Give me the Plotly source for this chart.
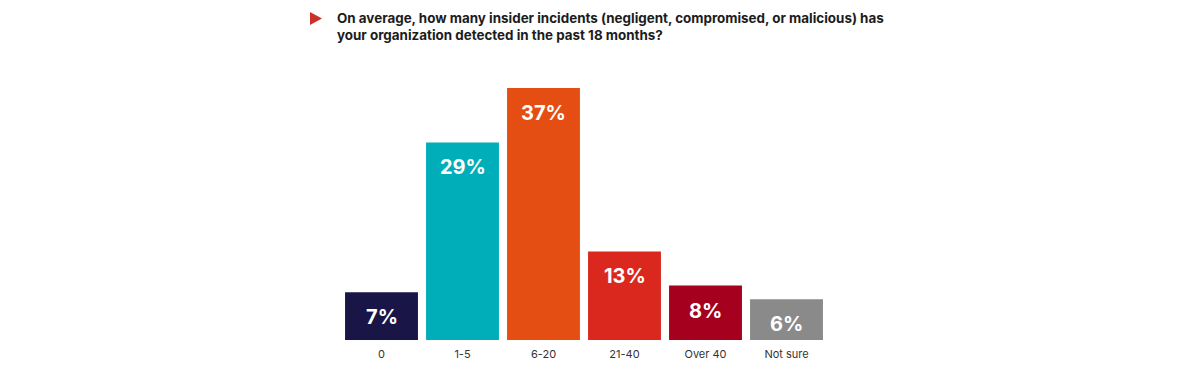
import plotly.graph_objects as go

categories = ["0", "1-5", "6-20", "21-40", "Over 40", "Not sure"]
values = [7, 29, 37, 13, 8, 6]
labels = ["7%", "29%", "37%", "13%", "8%", "6%"]
colors = ["#1a1547", "#00aeb9", "#e44e12", "#da281f", "#a6001f", "#8a8a8a"]
title_text = ("On average, how many insider incidents (negligent, compromised, or malicious) has<br>"
              "your organization detected in the past 18 months?")

fig = go.Figure()
fig.add_trace(go.Bar(
    x=categories, y=values, marker=dict(color=colors, line=dict(width=0)),
    hoverinfo="skip", showlegend=False,
))

for c, v, t in zip(categories, values, labels):
    fig.add_annotation(x=c, y=v, text="<b>" + t + "</b>", showarrow=False, yanchor="middle",
                       yshift=-25, font=dict(family="Inter, Roboto, sans-serif", size=20, color="white"))

# red triangle marker before the title
fig.add_shape(type="path", xref="paper", yref="paper",
              path="M -0.0638 1.3016 L -0.0391 1.2758 L -0.0638 1.25 Z",
              fillcolor="#cc3129", line=dict(width=0))
fig.add_annotation(xref="paper", yref="paper", x=-0.0124, y=1.318, xanchor="left", yanchor="top",
                   align="left", text="<b>" + title_text + "</b>", showarrow=False,
                   font=dict(family="Inter, Roboto, sans-serif", size=13.4, color="#1c1c1c"))

fig.update_layout(
    width=1200, height=370,
    margin=dict(l=333, r=381, t=80, b=38),
    paper_bgcolor="white", plot_bgcolor="white",
    bargap=0.1,
    xaxis=dict(showgrid=False, showline=False, ticks="", ticklabelstandoff=6,
               tickfont=dict(family="Inter, Roboto, sans-serif", size=11, color="#333333")),
    yaxis=dict(range=[0, 37], visible=False, showgrid=False),
)
fig.write_html("out.html")
